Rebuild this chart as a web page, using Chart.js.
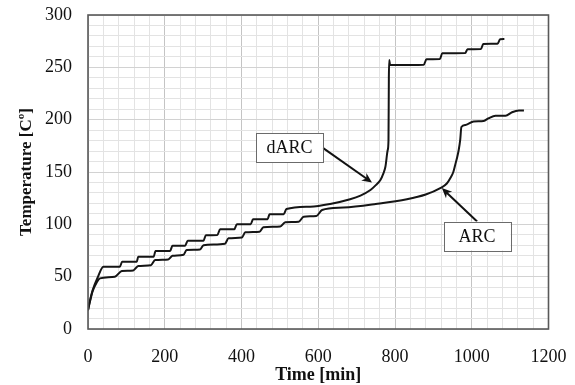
<!DOCTYPE html>
<html>
<head>
<meta charset="utf-8">
<script src="https://cdn.jsdelivr.net/npm/chart.js@4/dist/chart.umd.min.js"></script>
<style>
  html, body { margin: 0; padding: 0; background: #ffffff; }
  #wrap { width: 575px; height: 385px; }
</style>
</head>
<body>
<div id="wrap"><canvas id="c" width="575" height="385"></canvas></div>
<script>
// Temperature history of the two calorimeter runs (time in min, temperature in °C)
const darcTime = [0, 5, 12, 25, 40, 83, 89, 127, 131, 171, 176, 214, 220, 253, 260, 301, 307, 337, 344,
  381, 388, 424, 430, 468, 473, 510, 517, 579, 631, 683, 710, 736, 750, 762, 769, 775, 781, 783, 784, 785,
  787, 800, 875, 882, 917, 923, 983, 989, 1024, 1030, 1067, 1074, 1085];
const darcTemp = [18, 27, 37, 49, 59.5, 59.5, 64.3, 64.3, 69, 69, 74.5, 74.5, 79.6, 79.6, 84.4, 84.4, 89.5, 89.8, 95.2,
  95.2, 100, 100, 104.8, 104.8, 109.6, 109.6, 114.6, 116.9, 119.5, 124, 127.5, 132.8, 137.5, 142.4, 148, 155, 171, 180, 240, 257,
  252.5, 252.2, 252.5, 257.7, 257.9, 263.4, 263.6, 267.3, 267.5, 272.3, 272.5, 276.8, 277];

const arcTime = [0, 5, 12, 22, 31, 70, 88, 118, 131, 164, 175, 209, 220, 249, 257, 292, 301, 357, 366, 401,
  410, 447, 457, 501, 514, 549, 562, 595, 610, 666, 750, 831, 880, 918, 935, 944, 952, 957, 962, 966, 970,
  973, 984, 1005, 1031, 1044, 1062, 1088, 1105, 1123, 1136];
const arcTemp = [18, 26, 36, 44, 48.4, 50, 55.4, 56, 60.2, 61, 65.9, 66.5, 70, 71, 75.5, 76, 80, 81.5, 86.6, 87.5,
  92.4, 93, 97.2, 98, 102, 102.5, 107.3, 108, 113.7, 116, 119.5, 124, 128.5, 134.6, 139, 144, 150, 157, 164, 171, 181,
  193, 195, 198.3, 198.8, 201.4, 203.7, 203.7, 207.1, 208.7, 208.7];

// Axis ranges and steps
const xRange = [0, 1200], xMajor = 200, xMinor = 40;
const yRange = [0, 300], yMajor = 50, yMinor = 10;

// Callout boxes: text, box corners (time, temp) and arrow tip (time, temp)
const callouts = [
  { text: 'dARC', box: [438, 187, 612, 159.5], from: [612, 173], to: [740, 140] },
  { text: 'ARC',  box: [927, 102.7, 1101, 75], from: [1014, 102.7], to: [922, 134.6] }
];

const serif = '"Liberation Serif", "Times New Roman", serif';
const zip = (xs, ys) => xs.map((x, i) => ({ x: x, y: ys[i] }));

const calloutPlugin = {
  id: 'callouts',
  afterDatasetsDraw(chart) {
    const { ctx, scales: { x, y } } = chart;
    ctx.save();
    callouts.forEach(c => {
      const x0 = x.getPixelForValue(c.box[0]), y0 = y.getPixelForValue(c.box[1]);
      const x1 = x.getPixelForValue(c.box[2]), y1 = y.getPixelForValue(c.box[3]);
      // arrow shaft
      const fx = x.getPixelForValue(c.from[0]), fy = y.getPixelForValue(c.from[1]);
      const tx = x.getPixelForValue(c.to[0]), ty = y.getPixelForValue(c.to[1]);
      const ang = Math.atan2(ty - fy, tx - fx);
      const head = 10, half = 4.5;
      ctx.strokeStyle = '#111';
      ctx.lineWidth = 2;
      ctx.beginPath();
      ctx.moveTo(fx, fy);
      ctx.lineTo(tx - Math.cos(ang) * head * 0.6, ty - Math.sin(ang) * head * 0.6);
      ctx.stroke();
      ctx.fillStyle = '#111';
      ctx.beginPath();
      ctx.moveTo(tx, ty);
      ctx.lineTo(tx - Math.cos(ang) * head - Math.sin(ang) * half, ty - Math.sin(ang) * head + Math.cos(ang) * half);
      ctx.lineTo(tx - Math.cos(ang) * head * 0.7, ty - Math.sin(ang) * head * 0.7);
      ctx.lineTo(tx - Math.cos(ang) * head + Math.sin(ang) * half, ty - Math.sin(ang) * head - Math.cos(ang) * half);
      ctx.closePath();
      ctx.fill();
      // label box
      ctx.fillStyle = '#ffffff';
      ctx.fillRect(x0, y0, x1 - x0, y1 - y0);
      ctx.strokeStyle = '#6b6b6b';
      ctx.lineWidth = 1;
      ctx.strokeRect(Math.round(x0) + 0.5, Math.round(y0) + 0.5, Math.round(x1 - x0), Math.round(y1 - y0));
      ctx.fillStyle = '#111';
      ctx.font = '18px ' + serif;
      ctx.textAlign = 'center';
      ctx.textBaseline = 'middle';
      ctx.fillText(c.text, (x0 + x1) / 2, (y0 + y1) / 2 + 1);
    });
    ctx.restore();
  }
};

const framePlugin = {
  id: 'frame',
  afterDraw(chart) {
    const { ctx, chartArea: a } = chart;
    ctx.save();
    ctx.strokeStyle = '#595959';
    ctx.lineWidth = 1.6;
    ctx.strokeRect(a.left, a.top, a.right - a.left, a.bottom - a.top);
    ctx.restore();
  }
};

const lineStyle = {
  borderColor: '#151515',
  borderWidth: 2,
  pointRadius: 0,
  fill: false,
  showLine: true,
  cubicInterpolationMode: 'monotone'
};

new Chart(document.getElementById('c'), {
  type: 'scatter',
  data: {
    datasets: [
      Object.assign({ label: 'dARC', data: zip(darcTime, darcTemp) }, lineStyle),
      Object.assign({ label: 'ARC', data: zip(arcTime, arcTemp) }, lineStyle)
    ]
  },
  options: {
    responsive: false,
    animation: false,
    events: [],
    layout: { padding: { top: 15, right: 26.5, left: 0, bottom: 0 } },
    plugins: { legend: { display: false }, tooltip: { enabled: false } },
    scales: {
      x: {
        type: 'linear',
        min: xRange[0], max: xRange[1],
        afterFit: s => { s.height = 56; s.paddingLeft = 0; s.paddingRight = 0; },
        border: { display: false },
        grid: {
          drawTicks: false,
          lineWidth: 1,
          color: c => (c.tick && c.tick.value % xMajor === 0) ? '#c4c4c4' : '#e3e3e3'
        },
        ticks: {
          stepSize: xMinor,
          autoSkip: false,
          maxRotation: 0,
          padding: 17,
          color: '#111',
          font: { family: serif, size: 18 },
          callback: v => (v % xMajor === 0 ? String(v) : '')
        },
        title: {
          display: true,
          text: 'Time [min]',
          color: '#111',
          padding: { top: 0, bottom: -1 },
          font: { family: serif, size: 18, weight: 'bold' }
        }
      },
      y: {
        type: 'linear',
        min: yRange[0], max: yRange[1],
        afterFit: s => { s.width = 88; s.paddingTop = 0; s.paddingBottom = 0; },
        border: { display: false },
        grid: {
          drawTicks: false,
          lineWidth: 1,
          color: c => (c.tick && c.tick.value % yMajor === 0) ? '#d2d2d2' : '#e3e3e3'
        },
        ticks: {
          stepSize: yMinor,
          autoSkip: false,
          padding: 16,
          color: '#111',
          font: { family: serif, size: 18 },
          callback: v => (v % yMajor === 0 ? String(v) : '')
        },
        title: {
          display: true,
          text: 'Temperature [Cº]',
          color: '#111',
          padding: { top: 16, bottom: 0 },
          font: { family: serif, size: 17, weight: 'bold' }
        }
      }
    }
  },
  plugins: [calloutPlugin, framePlugin]
});
</script>
</body>
</html>
